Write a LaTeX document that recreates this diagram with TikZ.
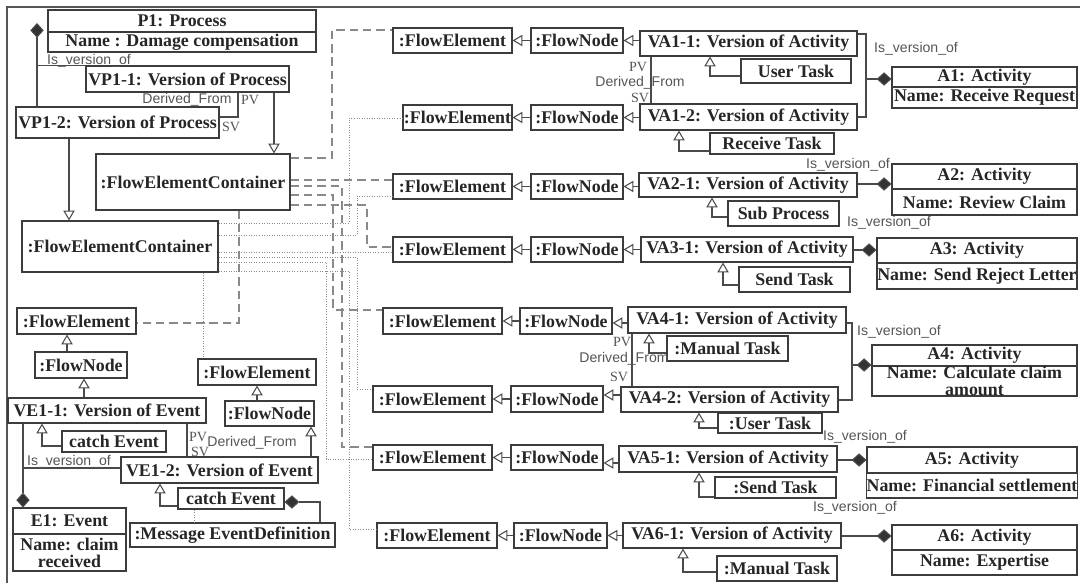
\documentclass[tikz,border=0pt]{standalone}
\usepackage{fontspec}
\setmainfont{Liberation Serif}
\newfontfamily\lblsans{Liberation Sans}
\usetikzlibrary{arrows.meta}
\definecolor{boxgray}{HTML}{3C3C3C}
\definecolor{linegray}{HTML}{4A4A4A}
\definecolor{linkgray}{HTML}{8A8A8A}
\definecolor{labelgray}{HTML}{555555}
\newcommand{\pxu}{0.025cm}

\begin{document}
\begin{tikzpicture}[x=\pxu, y=-\pxu,
    uml/.style={draw=boxgray, line width=0.75pt, fill=white, inner sep=0pt, align=center,
      text=black!85, font=\fontsize{12.7}{12}\selectfont\bfseries},
    boxat/.style n args={4}{at={({(#1+#3)/2},{(#2+#4)/2})},
      minimum width={(#3-#1)*\pxu}, minimum height={(#4-#2)*\pxu}},
    conn/.style={draw=linegray, line width=0.75pt},
    gen/.style={conn, -{Triangle[open, length=7pt, width=8pt]}},
    comp/.style={conn, -{Diamond[length=10.5pt, width=9.5pt, fill=black!80]}},
    dashlink/.style={draw=linkgray, line width=0.8pt, dash pattern=on 6pt off 3.5pt},
    dotlink/.style={draw=linkgray, line width=0.6pt, dash pattern=on 0.7pt off 1.1pt},
    rel/.style={text=labelgray, inner sep=0pt, font=\lblsans\fontsize{10}{11}\selectfont},
    role/.style={text=labelgray, inner sep=0pt, font=\fontsize{10}{11}\selectfont}]
    \useasboundingbox (0,0) rectangle (1080,583);
    \draw[conn, draw=labelgray] (7,583) -- (7,7) -- (1080,7);

    % process and its two versions
    \node[uml, boxat={48}{10}{316}{32}] (p1) {P1: Process};
    \node[uml, boxat={48}{32}{316}{52}] (p1n) {Name : Damage compensation};
    \node[uml, boxat={86}{66}{289}{92}] (vp11) {VP1-1: Version of Process};
    \node[uml, boxat={16}{107}{219}{138}] (vp12) {VP1-2: Version of Process};
    \node[uml, boxat={96}{154}{290}{210}] (fec1) {:FlowElementContainer};
    \node[uml, boxat={22}{221}{218}{272}] (fec2) {:FlowElementContainer};

    % events
    \node[uml, boxat={17}{308}{136}{334}] (fe_e11) {:FlowElement};
    \node[uml, boxat={35}{352}{127}{378}] (fn_e11) {:FlowNode};
    \node[uml, boxat={8}{398}{206}{423}] (ve11) {VE1-1: Version of Event};
    \node[uml, boxat={62}{431}{166}{452}] (task_e11) {catch Event};
    \node[uml, boxat={198}{359}{316}{385}] (fe_e12) {:FlowElement};
    \node[uml, boxat={225}{401}{314}{426}] (fn_e12) {:FlowNode};
    \node[uml, boxat={121}{457}{318}{483}] (ve12) {VE1-2: Version of Event};
    \node[uml, boxat={178}{488}{284}{509}] (task_e12) {catch Event};
    \node[uml, boxat={130}{523}{335}{547}] (msgdef) {:Message EventDefinition};
    \node[uml, boxat={13}{508}{126}{534}] (e1) {E1: Event};
    \node[uml, boxat={13}{534}{126}{571}] (e1n) {Name: claim\\received};

    % activities
    \node[uml, boxat={393}{28}{512}{53}] (fe_a11) {:FlowElement};
    \node[uml, boxat={531}{28}{623}{53}] (fn_a11) {:FlowNode};
    \node[uml, boxat={640}{31}{857}{56}] (va11) {VA1-1: Version of Activity};
    \node[uml, boxat={741}{59}{851}{83}] (task_a11) {User Task};
    \node[uml, boxat={403}{105}{512}{130}] (fe_a12) {:FlowElement};
    \node[uml, boxat={531}{105}{623}{130}] (fn_a12) {:FlowNode};
    \node[uml, boxat={640}{104}{857}{130}] (va12) {VA1-2: Version of Activity};
    \node[uml, boxat={710}{133}{834}{154}] (task_a12) {Receive Task};
    \node[uml, boxat={892}{67}{1077}{87}] (a1) {A1: Activity};
    \node[uml, boxat={892}{87}{1077}{108}] (a1n) {Name: Receive Request};

    \node[uml, boxat={393}{174}{512}{199}] (fe_a21) {:FlowElement};
    \node[uml, boxat={531}{174}{623}{199}] (fn_a21) {:FlowNode};
    \node[uml, boxat={639}{173}{857}{197}] (va21) {VA2-1: Version of Activity};
    \node[uml, boxat={728}{201}{839}{226}] (task_a21) {Sub Process};
    \node[uml, boxat={892}{164}{1077}{189}] (a2) {A2: Activity};
    \node[uml, boxat={892}{189}{1077}{215}] (a2n) {Name: Review Claim};

    \node[uml, boxat={393}{237}{512}{262}] (fe_a31) {:FlowElement};
    \node[uml, boxat={531}{237}{623}{262}] (fn_a31) {:FlowNode};
    \node[uml, boxat={641}{237}{853}{262}] (va31) {VA3-1: Version of Activity};
    \node[uml, boxat={739}{267}{850}{292}] (task_a31) {Send Task};
    \node[uml, boxat={877}{238}{1077}{263}] (a3) {A3: Activity};
    \node[uml, boxat={877}{263}{1077}{289}] (a3n) {Name: Send Reject Letter};

    \node[uml, boxat={383}{308}{502}{334}] (fe_a41) {:FlowElement};
    \node[uml, boxat={520}{308}{612}{334}] (fn_a41) {:FlowNode};
    \node[uml, boxat={628}{307}{846}{333}] (va41) {VA4-1: Version of Activity};
    \node[uml, boxat={667}{336}{788}{361}] (task_a41) {:Manual Task};
    \node[uml, boxat={373}{386}{492}{412}] (fe_a42) {:FlowElement};
    \node[uml, boxat={511}{386}{603}{412}] (fn_a42) {:FlowNode};
    \node[uml, boxat={621}{387}{838}{412}] (va42) {VA4-2: Version of Activity};
    \node[uml, boxat={718}{413}{822}{433}] (task_a42) {:User Task};
    \node[uml, boxat={872}{345}{1077}{366}] (a4) {A4: Activity};
    \node[uml, boxat={872}{366}{1077}{396}] (a4n) {Name: Calculate claim\\amount};

    \node[uml, boxat={373}{445}{492}{470}] (fe_a51) {:FlowElement};
    \node[uml, boxat={511}{445}{603}{470}] (fn_a51) {:FlowNode};
    \node[uml, boxat={619}{446}{837}{472}] (va51) {VA5-1: Version of Activity};
    \node[uml, boxat={715}{477}{836}{498}] (task_a51) {:Send Task};
    \node[uml, boxat={867}{447}{1077}{473}] (a5) {A5: Activity};
    \node[uml, boxat={867}{473}{1077}{498}] (a5n) {Name: Financial settlement};

    \node[uml, boxat={377}{523}{497}{548}] (fe_a61) {:FlowElement};
    \node[uml, boxat={514}{523}{607}{548}] (fn_a61) {:FlowNode};
    \node[uml, boxat={623}{523}{841}{548}] (va61) {VA6-1: Version of Activity};
    \node[uml, boxat={717}{556}{837}{581}] (task_a61) {:Manual Task};
    \node[uml, boxat={892}{525}{1077}{550}] (a6) {A6: Activity};
    \node[uml, boxat={892}{550}{1077}{575}] (a6n) {Name: Expertise};

    % process relations
    \coordinate (p1d) at (37,23);
    \draw[comp] (vp12.north -| p1d) -- (p1d);
    \draw[conn] (vp11.north west) -- (vp11.north west -| p1d);
    \node[rel] at (89,61) {Is\_version\_of};
    \draw[conn] (vp11.south -| 238,0) |- (vp12.east |- 0,117);
    \node[rel] at (187,100) {Derived\_From};
    \node[role] at (250,100) {PV};
    \node[role] at (231,127) {SV};
    \draw[gen] (vp11.south -| 274,0) -- (fec1.north -| 274,0);
    \draw[gen] (vp12.south -| 69,0) -- (fec2.north -| 69,0);

    % containers to flow elements
    \draw[dashlink] (fec1.east |- 0,158) -| (332,30) -- (fe_a11.west |- 0,30);
    \draw[dashlink] (fec1.east |- 0,180) -- (fe_a21.west |- 0,180);
    \draw[dashlink] (fec1.east |- 0,186) -| (342,447) -- (fe_a51.west |- 0,447);
    \draw[dashlink] (fec1.east |- 0,195) -| (333,310) -- (fe_a41.west |- 0,310);
    \draw[dashlink] (fec1.east |- 0,205) -| (367,247) -- (fe_a31.west |- 0,247);
    \draw[dashlink] (fec1.south -| 239,0) |- (fe_e11.east |- 0,323);
    \draw[dotlink] (fec2.east |- 0,223) -| (349,118) -- (fe_a12.west |- 0,118);
    \draw[dotlink] (fec2.east |- 0,235) -| (357,196) -- (fe_a21.west |- 0,196);
    \draw[dotlink] (fec2.east |- 0,252) -- (fe_a31.west |- 0,252);
    \draw[dotlink] (fec2.east |- 0,257) -| (357,389) -- (fe_a42.west |- 0,389);
    \draw[dotlink] (fec2.east |- 0,262) -| (326,459) -- (fe_a51.west |- 0,459);
    \draw[dotlink] (fec2.east |- 0,271) -| (349,529) -- (fe_a61.west |- 0,529);
    \draw[dotlink] (fec2.south -| 203,0) -- (fe_e12.north -| 203,0);

    % event relations
    \draw[gen] (fn_e11.north -| 67,0) -- (fe_e11.south -| 67,0);
    \draw[gen] (ve11.north -| 84,0) -- (fn_e11.south -| 84,0);
    \draw[gen] (task_e11.west |- 0,446) -| (ve11.south -| 42,0);
    \draw[gen] (fn_e12.north -| 257,0) -- (fe_e12.south -| 257,0);
    \draw[gen] (ve12.north -| 311,0) -- (fn_e12.south -| 311,0);
    \draw[gen] (task_e12.west |- 0,506) -| (ve12.south -| 160,0);
    \draw[comp] (msgdef.north -| 320,0) |- (task_e12.east |- 0,502);
    \draw[dotlink] (task_e12.south -| 194,0) -- (msgdef.north -| 194,0);
    \draw[comp] (ve11.south -| 23,0) -- (e1.north -| 23,0);
    \draw[conn] (23,468) -- (ve12.west |- 0,468);
    \node[rel] at (69,462) {Is\_version\_of};
    \draw[conn] (ve11.south -| 187,0) -- (ve12.north -| 187,0);
    \node[role] at (198,437) {PV};
    \node[rel] at (252,443) {Derived\_From};
    \node[role] at (200,452) {SV};

    % activity rows
    \draw[gen] (fn_a11.west) -- (fe_a11.east);
    \draw[gen] (va11.west |- fn_a11.east) -- (fn_a11.east);
    \draw[gen] (task_a11.west |- 0,76) -| (va11.south -| 710,0);
    \draw[gen] (fn_a12.west) -- (fe_a12.east);
    \draw[gen] (va12.west |- fn_a12.east) -- (fn_a12.east);
    \draw[gen] (task_a12.west |- 0,151) -| (va12.south -| 679,0);
    \draw[conn] (va11.south -| 651,0) -- (va12.north -| 651,0);
    \node[role] at (638,67) {PV};
    \node[rel] at (640,83) {Derived\_From};
    \node[role] at (640,98) {SV};
    \draw[conn] (va11.east |- 0,34) -| (866,117) -- (va12.east |- 0,117);
    \draw[comp] (866,79) -- (a1.west |- 0,79);
    \node[rel] at (916,49) {Is\_version\_of};

    \draw[gen] (fn_a21.west) -- (fe_a21.east);
    \draw[gen] (va21.west |- fn_a21.east) -- (fn_a21.east);
    \draw[gen] (task_a21.west |- 0,217) -| (va21.south -| 712,0);
    \draw[comp] (va21.east |- 0,184) -- (a2.west |- 0,184);
    \node[rel] at (848,165) {Is\_version\_of};

    \draw[gen] (fn_a31.west) -- (fe_a31.east);
    \draw[gen] (va31.west |- fn_a31.east) -- (fn_a31.east);
    \draw[gen] (task_a31.west |- 0,285) -| (va31.south -| 723,0);
    \draw[comp] (va31.east |- 0,250) -- (a3.west |- 0,250);
    \node[rel] at (889,223) {Is\_version\_of};

    \draw[gen] (fn_a41.west) -- (fe_a41.east);
    \draw[gen] (va41.west |- 0,323) -- (fn_a41.east |- 0,323);
    \draw[gen] (task_a41.west |- 0,353) -| (va41.south -| 649,0);
    \draw[gen] (fn_a42.west) -- (fe_a42.east);
    \draw[gen] (va42.west |- 0,395) -- (fn_a42.east |- 0,395);
    \draw[gen] (task_a42.west |- 0,428) -| (va42.south -| 699,0);
    \draw[conn] (va41.south -| 632,0) -- (va42.north -| 632,0);
    \node[role] at (622,342) {PV};
    \node[rel] at (624,359) {Derived\_From};
    \node[role] at (619,377) {SV};
    \draw[conn] (va41.east |- 0,323) -| (852,400) -- (va42.east |- 0,400);
    \draw[comp] (852,365) -- (a4.west |- 0,365);
    \node[rel] at (899,332) {Is\_version\_of};

    \draw[gen] (fn_a51.west) -- (fe_a51.east);
    \draw[gen] (va51.west |- 0,463) -- (fn_a51.east |- 0,463);
    \draw[gen] (task_a51.west |- 0,497) -| (va51.south -| 699,0);
    \draw[comp] (va51.east |- 0,460) -- (a5.west |- 0,460);
    \node[rel] at (865,437) {Is\_version\_of};

    \draw[gen] (fn_a61.west) -- (fe_a61.east);
    \draw[gen] (va61.west |- fn_a61.east) -- (fn_a61.east);
    \draw[gen] (task_a61.west |- 0,572) -| (va61.south -| 683,0);
    \draw[comp] (va61.east |- 0,536) -- (a6.west |- 0,536);
    \node[rel] at (855,508) {Is\_version\_of};
\end{tikzpicture}
\end{document}
